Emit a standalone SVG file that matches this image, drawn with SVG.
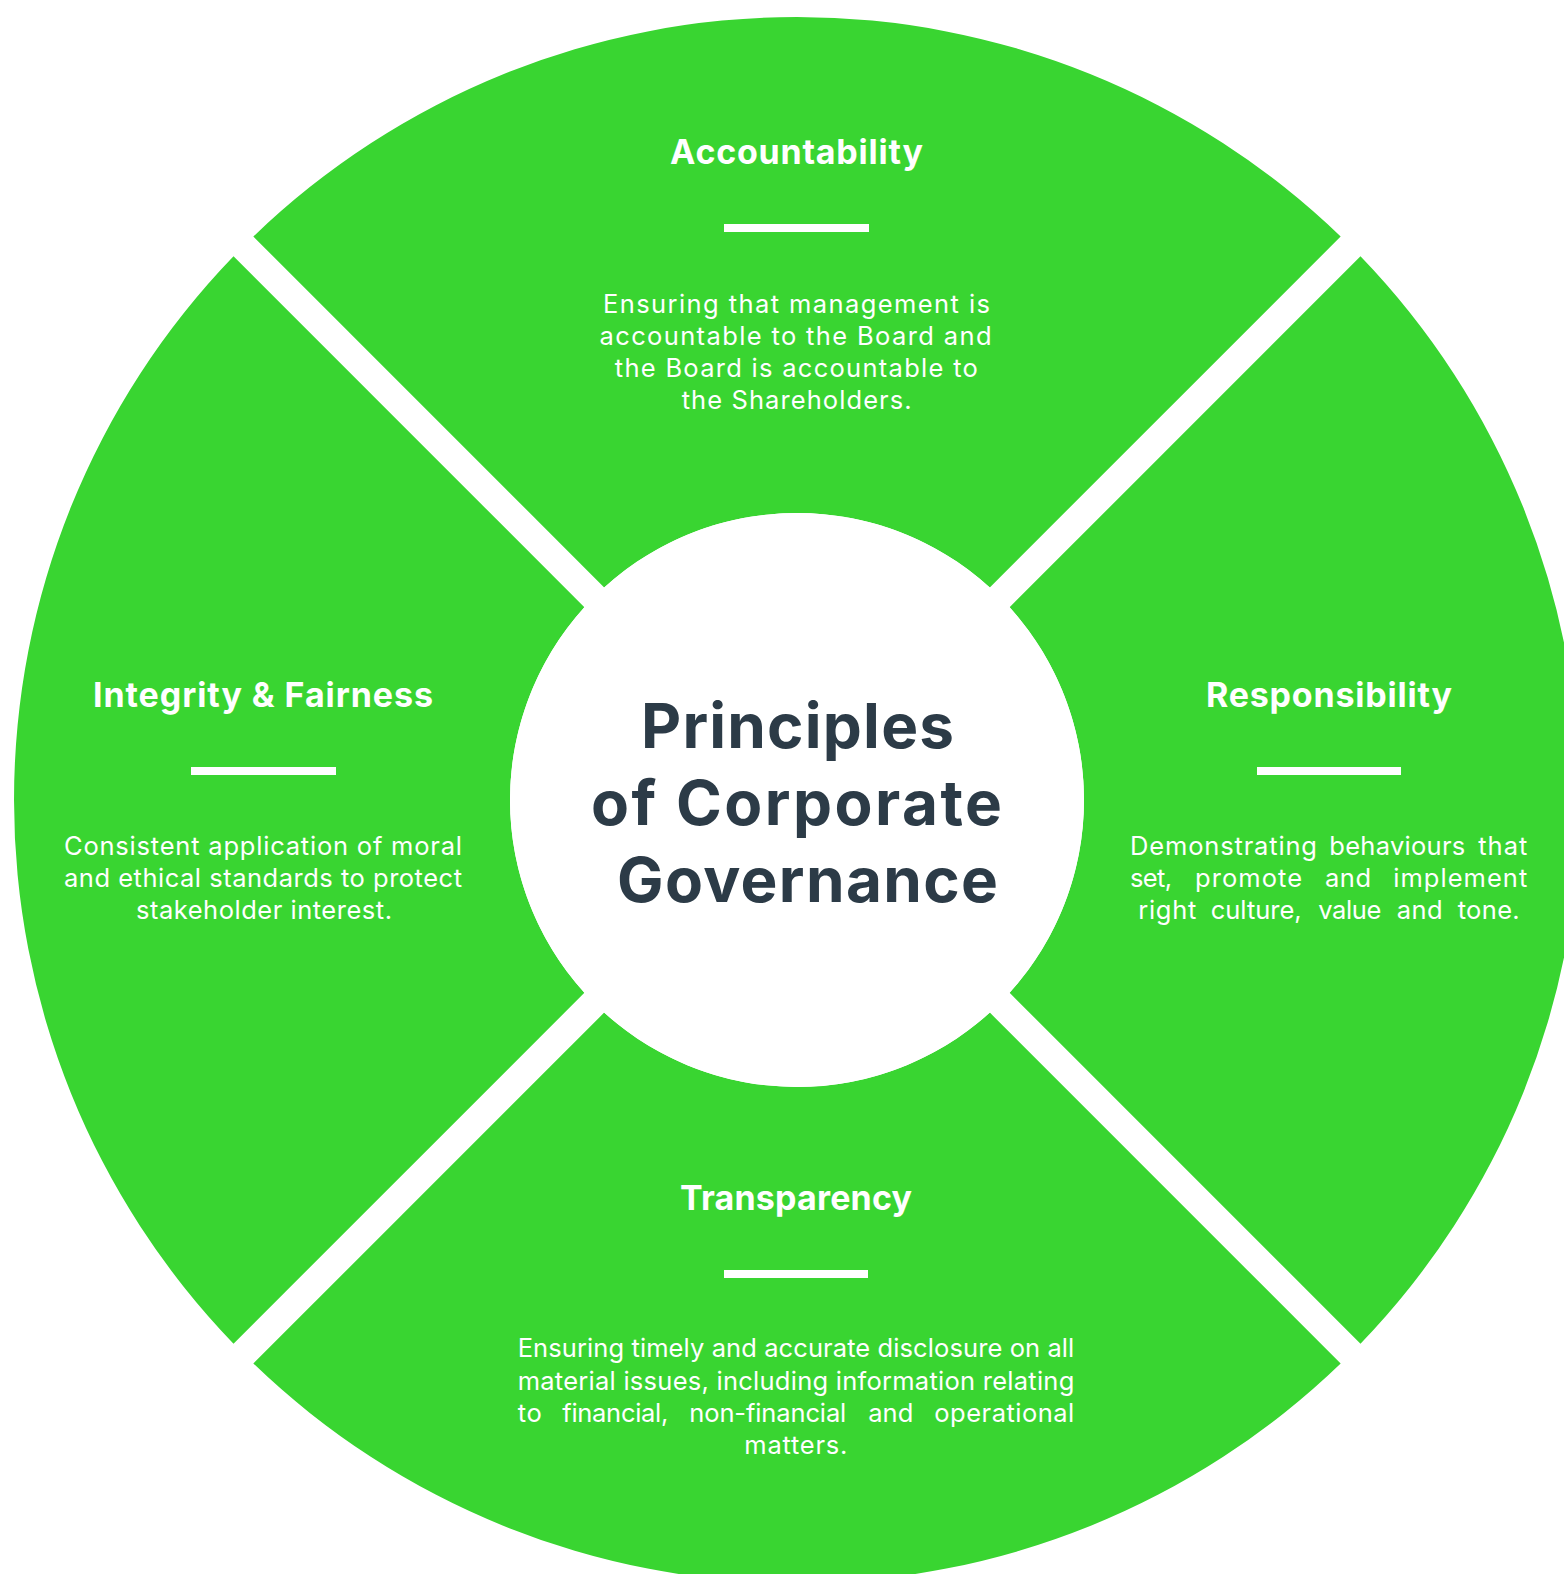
<svg xmlns="http://www.w3.org/2000/svg" width="1564" height="1574" viewBox="0 0 1564 1574">
<style>
.seg{fill:#39d531}
.title{font-family:Inter,"Liberation Sans",sans-serif;font-weight:700;font-size:34px;fill:#ffffff;text-anchor:middle}
.body{font-family:Inter,"Liberation Sans",sans-serif;font-weight:400;font-size:25.5px;fill:#ffffff;text-anchor:middle}
.word{font-family:Inter,"Liberation Sans",sans-serif;font-weight:400;font-size:25.5px;fill:#ffffff;text-anchor:start}
.bar{fill:#ffffff}
.center{font-family:Inter,"Liberation Sans",sans-serif;font-weight:700;font-size:62px;fill:#2c3b47;text-anchor:middle}
</style>
<rect x="0" y="0" width="1564" height="1574" fill="#ffffff"/>

<g id="accountability">
<path class="seg" d="M253.33 236.53 A783 783 0 0 1 1340.67 236.53 L989.8 587.4 A287 287 0 0 0 604.2 587.4 Z"/>
<text class="title" x="796.5" y="164" textLength="253" lengthAdjust="spacing">Accountability</text>
<rect class="bar" x="724" y="224" width="145" height="8"/>
<text class="body" x="796.5" y="313" textLength="387" lengthAdjust="spacing">Ensuring that management is</text>
<text class="body" x="795.5" y="345" textLength="392" lengthAdjust="spacing">accountable to the Board and</text>
<text class="body" x="796.3" y="377" textLength="363" lengthAdjust="spacing">the Board is accountable to</text>
<text class="body" x="796.7" y="409" textLength="230" lengthAdjust="spacing">the Shareholders.</text>
</g>

<g id="responsibility">
<path class="seg" d="M1360.47 256.33 A783 783 0 0 1 1360.47 1343.67 L1009.6 992.8 A287 287 0 0 0 1009.6 607.2 Z"/>
<text class="title" x="1329" y="707" textLength="246" lengthAdjust="spacing">Responsibility</text>
<rect class="bar" x="1257" y="767" width="144" height="8"/>
<text class="word" x="1130" y="855" textLength="187" lengthAdjust="spacing">Demonstrating</text>
<text class="word" x="1329.3" y="855" textLength="136" lengthAdjust="spacing">behaviours</text>
<text class="word" x="1478.3" y="855" textLength="49" lengthAdjust="spacing">that</text>
<text class="word" x="1130" y="887" textLength="42" lengthAdjust="spacing">set,</text>
<text class="word" x="1195" y="887" textLength="107" lengthAdjust="spacing">promote</text>
<text class="word" x="1325" y="887" textLength="46" lengthAdjust="spacing">and</text>
<text class="word" x="1393.3" y="887" textLength="134" lengthAdjust="spacing">implement</text>
<text class="word" x="1138.3" y="919" textLength="58" lengthAdjust="spacing">right</text>
<text class="word" x="1210.7" y="919" textLength="91" lengthAdjust="spacing">culture,</text>
<text class="word" x="1318.3" y="919" textLength="63" lengthAdjust="spacing">value</text>
<text class="word" x="1396.7" y="919" textLength="46" lengthAdjust="spacing">and</text>
<text class="word" x="1457.7" y="919" textLength="62" lengthAdjust="spacing">tone.</text>
</g>

<g id="transparency">
<path class="seg" d="M1340.67 1363.47 A783 783 0 0 1 253.33 1363.47 L604.2 1012.6 A287 287 0 0 0 989.8 1012.6 Z"/>
<text class="title" x="796" y="1210" textLength="232" lengthAdjust="spacing">Transparency</text>
<rect class="bar" x="724" y="1270" width="144" height="8"/>
<text class="body" x="796" y="1357" textLength="556.6" lengthAdjust="spacing">Ensuring timely and accurate disclosure on all</text>
<text class="body" x="796" y="1390" textLength="556.6" lengthAdjust="spacing">material issues, including information relating</text>
<text class="word" x="517.7" y="1422" textLength="24" lengthAdjust="spacing">to</text>
<text class="word" x="562.3" y="1422" textLength="106" lengthAdjust="spacing">financial,</text>
<text class="word" x="689.3" y="1422" textLength="157" lengthAdjust="spacing">non-financial</text>
<text class="word" x="868.3" y="1422" textLength="45" lengthAdjust="spacing">and</text>
<text class="word" x="934.3" y="1422" textLength="140" lengthAdjust="spacing">operational</text>
<text class="body" x="795.8" y="1454" textLength="103" lengthAdjust="spacing">matters.</text>
</g>

<g id="integrity-fairness">
<path class="seg" d="M233.53 1343.67 A783 783 0 0 1 233.53 256.33 L584.4 607.2 A287 287 0 0 0 584.4 992.8 Z"/>
<text class="title" x="263" y="707" textLength="340" lengthAdjust="spacing">Integrity &amp; Fairness</text>
<rect class="bar" x="191" y="767" width="145" height="8"/>
<text class="body" x="263" y="855" textLength="398" lengthAdjust="spacing">Consistent application of moral</text>
<text class="body" x="263" y="887" textLength="398" lengthAdjust="spacing">and ethical standards to protect</text>
<text class="body" x="264" y="919" textLength="256" lengthAdjust="spacing">stakeholder interest.</text>
</g>

<g id="center">
<circle cx="797" cy="800" r="287" fill="#ffffff"/>
<text class="center" x="797.5" y="748" textLength="313" lengthAdjust="spacing">Principles</text>
<text class="center" x="796.5" y="825" textLength="411" lengthAdjust="spacing">of Corporate</text>
<text class="center" x="807.5" y="902" textLength="381" lengthAdjust="spacing">Governance</text>
</g>
</svg>
